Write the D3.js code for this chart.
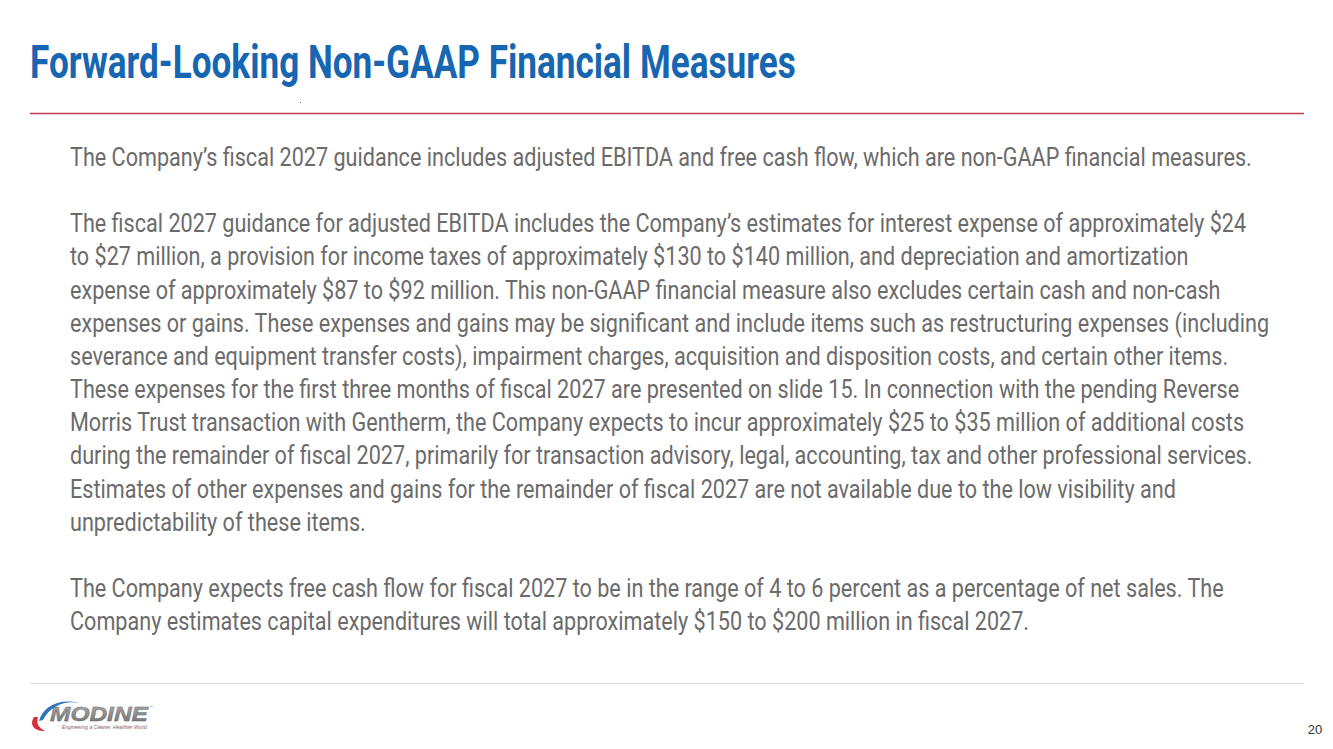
<!DOCTYPE html>
<html>
<head>
<meta charset="utf-8">
<script src="https://cdn.jsdelivr.net/npm/d3@7"></script>
<style>
  html, body { margin: 0; padding: 0; background: #ffffff; }
  svg { display: block; }
</style>
</head>
<body>
<svg id="slide" width="1333" height="749"></svg>
<script>
// ---------- content ----------
const titleText = "Forward-Looking Non-GAAP Financial Measures";

const paragraph1 = [
  "The Company’s fiscal 2027 guidance includes adjusted EBITDA and free cash flow, which are non-GAAP financial measures."
];

const paragraph2 = [
  "The fiscal 2027 guidance for adjusted EBITDA includes the Company’s estimates for interest expense of approximately $24",
  "to $27 million, a provision for income taxes of approximately $130 to $140 million, and depreciation and amortization",
  "expense of approximately $87 to $92 million. This non-GAAP financial measure also excludes certain cash and non-cash",
  "expenses or gains. These expenses and gains may be significant and include items such as restructuring expenses (including",
  "severance and equipment transfer costs), impairment charges, acquisition and disposition costs, and certain other items.",
  "These expenses for the first three months of fiscal 2027 are presented on slide 15. In connection with the pending Reverse",
  "Morris Trust transaction with Gentherm, the Company expects to incur approximately $25 to $35 million of additional costs",
  "during the remainder of fiscal 2027, primarily for transaction advisory, legal, accounting, tax and other professional services.",
  "Estimates of other expenses and gains for the remainder of fiscal 2027 are not available due to the low visibility and",
  "unpredictability of these items."
];

const paragraph3 = [
  "The Company expects free cash flow for fiscal 2027 to be in the range of 4 to 6 percent as a percentage of net sales. The",
  "Company estimates capital expenditures will total approximately $150 to $200 million in fiscal 2027."
];

const pageNumber = "20";
const logoName = "MODINE";
const logoTagline = "Engineering a Cleaner, Healthier World";

// ---------- layout ----------
const W = 1333, H = 749;
const svg = d3.select("#slide");

// body rows (blank rows between paragraphs)
const rows = [...paragraph1, "", ...paragraph2, "", ...paragraph3];
const yRow = d3.scaleLinear().domain([0, rows.length - 1]).range([166, 166 + (rows.length - 1) * 33.15]);
const xBody = 70;

// title
const titleG = svg.append("g");
const titleT = titleG.append("text")
  .attr("x", 0).attr("y", 0)
  .attr("font-family", "Roboto, 'Liberation Sans', sans-serif")
  .attr("font-weight", 700)
  .attr("font-size", 46)
  .attr("fill", "#1766b1")
  .text(titleText);
const tw = titleT.node().getComputedTextLength();
const tk = 766 / tw;
titleG.attr("transform", `translate(30,78) scale(${tk},1)`);

// rules
const xRule = d3.scaleLinear().domain([0, 1]).range([30, 1304]);
svg.append("line").attr("x1", xRule(0)).attr("x2", xRule(1))
  .attr("y1", 113.5).attr("y2", 113.5)
  .attr("stroke", "#c23a55").attr("stroke-width", 1.3);
svg.append("rect").attr("x", 300).attr("y", 102).attr("width", 1).attr("height", 1).attr("fill", "#555");
svg.append("line").attr("x1", xRule(0)).attr("x2", xRule(1))
  .attr("y1", 683.5).attr("y2", 683.5)
  .attr("stroke", "#dcdcdc").attr("stroke-width", 1);

// body text
const bodyG = svg.append("g");
const probe = bodyG.append("text")
  .attr("font-family", "Roboto, 'Liberation Sans', sans-serif")
  .attr("font-size", 25)
  .text(paragraph1[0]);
const bk = 1182 / probe.node().getComputedTextLength();
probe.remove();

rows.forEach((line, i) => {
  if (!line) return;
  bodyG.append("g")
    .attr("transform", `translate(${xBody},${yRow(i)}) scale(${bk},1)`)
    .append("text")
    .attr("font-family", "Roboto, 'Liberation Sans', sans-serif")
    .attr("font-size", 25)
    .attr("fill", "#6b6b6b")
    .text(line);
});

// page number
svg.append("text")
  .attr("x", 1315).attr("y", 734)
  .attr("text-anchor", "middle")
  .attr("font-family", "'Liberation Sans', Arial, sans-serif")
  .attr("font-size", 13)
  .attr("fill", "#333")
  .text(pageNumber);

// ---------- logo ----------
const logo = svg.append("g");
const defs = svg.append("defs");
const grad = defs.append("linearGradient").attr("id", "mg").attr("x1", 0).attr("y1", 0).attr("x2", 0).attr("y2", 1);
grad.append("stop").attr("offset", "0%").attr("stop-color", "#b0b0b0");
grad.append("stop").attr("offset", "100%").attr("stop-color", "#707070");

// blue swoosh
logo.append("path")
  .attr("d", "M39,721 C43,707 58,698 79,703 C63,700 50,707 43,720 Z")
  .attr("fill", "#2f74c0");
// red swoosh
logo.append("path")
  .attr("d", "M34,717 C29,725 34,731 45,731 C39,728 36,724 38,717 Z")
  .attr("fill", "#d6303a");

// MODINE lettering
const nameG = logo.append("g");
const nameT = nameG.append("text")
  .attr("font-family", "'Liberation Sans', Arial, sans-serif")
  .attr("font-weight", 700)
  .attr("font-style", "italic")
  .attr("font-size", 19.5)
  .attr("fill", "url(#mg)")
  .attr("stroke", "#5a5a5a").attr("stroke-width", 0.4)
  .text(logoName);
const nk = 98 / nameT.node().getComputedTextLength();
nameG.attr("transform", `translate(50,721) scale(${nk},1)`);

logo.append("text")
  .attr("x", 150).attr("y", 708)
  .attr("font-family", "'Liberation Sans', Arial, sans-serif")
  .attr("font-size", 4).attr("fill", "#777")
  .text("®");

const tagG = logo.append("g");
const tagT = tagG.append("text")
  .attr("font-family", "'Liberation Sans', Arial, sans-serif")
  .attr("font-style", "italic")
  .attr("font-size", 5)
  .attr("fill", "#8a5a5e")
  .text(logoTagline);
const gk = 85 / tagT.node().getComputedTextLength();
tagG.attr("transform", `translate(62,729) scale(${gk},1)`);
</script>
</body>
</html>
